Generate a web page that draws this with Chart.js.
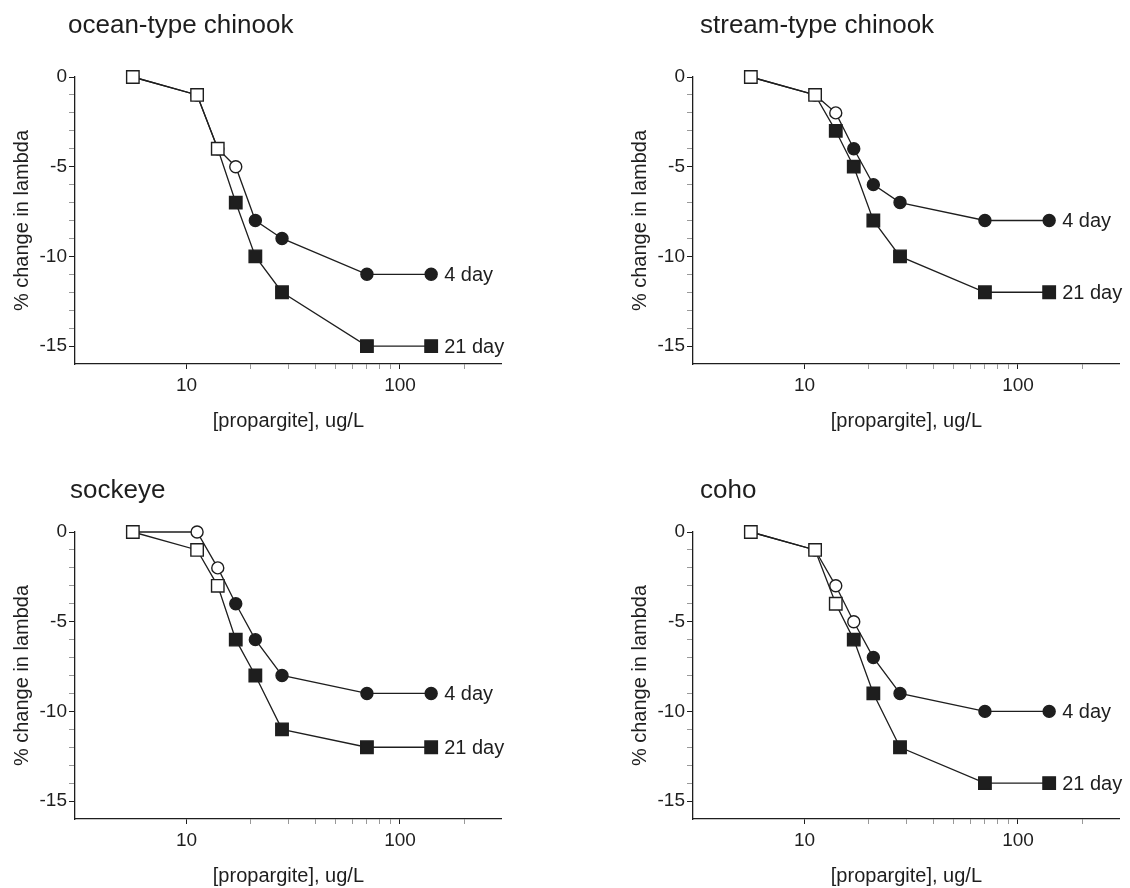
<!DOCTYPE html>
<html>
<head>
<meta charset="utf-8">
<script src="https://cdn.jsdelivr.net/npm/chart.js@4.4.1/dist/chart.umd.min.js"></script>
<style>
  body { margin: 0; background: #fff; width: 1130px; height: 888px; overflow: hidden; position: relative; }
  canvas { position: absolute; }
</style>
</head>
<body>
<canvas id="ocean" width="512" height="444" style="left:0;top:0"></canvas>
<canvas id="stream" width="512" height="444" style="left:618px;top:0"></canvas>
<canvas id="sockeye" width="512" height="444" style="left:0;top:455px"></canvas>
<canvas id="coho" width="512" height="444" style="left:618px;top:455px"></canvas>
<script>
// propargite concentrations, ug/L
const conc = [5.6, 11.2, 14, 17, 21, 28, 70, 140];
const xTicks = [10, 20, 30, 40, 50, 60, 70, 80, 90, 100, 200];
const yTicks = [0, -1, -2, -3, -4, -5, -6, -7, -8, -9, -10, -11, -12, -13, -14, -15];

// % change in lambda, 4 day and 21 day exposures
const oceanDay4    = [0, -1, -4, -5, -8, -9, -11, -11];
const oceanDay21   = [0, -1, -4, -7, -10, -12, -15, -15];
const streamDay4   = [0, -1, -2, -4, -6, -7, -8, -8];
const streamDay21  = [0, -1, -3, -5, -8, -10, -12, -12];
const sockeyeDay4  = [0, 0, -2, -4, -6, -8, -9, -9];
const sockeyeDay21 = [0, -1, -3, -6, -8, -11, -12, -12];
const cohoDay4     = [0, -1, -3, -5, -7, -9, -10, -10];
const cohoDay21    = [0, -1, -4, -6, -9, -12, -14, -14];

// significant (filled symbol) or not (open symbol)
const oceanSig4    = [0, 0, 0, 0, 1, 1, 1, 1];
const oceanSig21   = [0, 0, 0, 1, 1, 1, 1, 1];
const streamSig4   = [0, 0, 0, 1, 1, 1, 1, 1];
const streamSig21  = [0, 0, 1, 1, 1, 1, 1, 1];
const sockeyeSig4  = [0, 0, 0, 1, 1, 1, 1, 1];
const sockeyeSig21 = [0, 0, 0, 1, 1, 1, 1, 1];
const cohoSig4     = [0, 0, 0, 0, 1, 1, 1, 1];
const cohoSig21    = [0, 0, 0, 1, 1, 1, 1, 1];

const FONT = '"Liberation Sans", Arial, Helvetica, sans-serif';
const INK = '#1e1e1e';

// "4 day" / "21 day" next to the last point of each series
const endLabels = {
  id: 'endLabels',
  afterDatasetsDraw(chart) {
    const ctx = chart.ctx;
    ctx.save();
    ctx.font = '20px ' + FONT;
    ctx.fillStyle = INK;
    ctx.textBaseline = 'middle';
    chart.data.datasets.forEach((ds, i) => {
      const pts = chart.getDatasetMeta(i).data;
      const p = pts[pts.length - 1];
      ctx.fillText(ds.label, p.x + 13, p.y + 1);
    });
    ctx.restore();
  }
};

// nudge the panel title a little off the y axis
const titleShift = {
  id: 'titleShift',
  afterLayout(chart, args, opts) {
    const t = chart.titleBlock;
    if (t) { t.left += opts.dx; t.right += opts.dx; }
  }
};

function series(label, ys, sig, style, radius) {
  return {
    label: label,
    data: conc.map((x, i) => ({ x: x, y: ys[i] })),
    showLine: true,
    borderColor: INK,
    borderWidth: 1.3,
    pointStyle: style,
    pointRadius: radius,
    pointHoverRadius: radius,
    pointBorderWidth: 1.4,
    pointBorderColor: INK,
    pointBackgroundColor: sig.map(s => s ? INK : '#fff'),
    clip: false
  };
}

function makePanel(id, title, day4, day21, sig4, sig21, titlePad, dx) {
  new Chart(document.getElementById(id), {
    type: 'scatter',
    data: {
      datasets: [
        series('21 day', day21, sig21, 'rect', 8.8),
        series('4 day', day4, sig4, 'circle', 6)
      ]
    },
    plugins: [endLabels, titleShift],
    options: {
      responsive: false,
      animation: false,
      events: [],
      layout: { padding: 0 },
      plugins: {
        legend: { display: false },
        tooltip: { enabled: false },
        titleShift: { dx: dx },
        title: {
          display: true,
          text: title,
          align: 'start',
          fullSize: false,
          color: INK,
          font: { family: FONT, size: 26, weight: 'normal' },
          padding: titlePad
        }
      },
      scales: {
        x: {
          type: 'logarithmic',
          min: 3,
          max: 300,
          afterBuildTicks: s => { s.ticks = xTicks.map(v => ({ value: v })); },
          afterFit: s => { s.height = 80; },
          border: { color: INK, width: 1.3 },
          grid: {
            drawOnChartArea: false,
            tickLength: 5,
            tickColor: c => (c.tick && (c.tick.value === 10 || c.tick.value === 100)) ? INK : '#999'
          },
          ticks: {
            autoSkip: false,
            maxRotation: 0,
            padding: 5,
            color: INK,
            font: { family: FONT, size: 19 },
            callback: v => (v === 10 || v === 100) ? String(v) : ''
          },
          title: {
            display: true,
            text: '[propargite], ug/L',
            color: INK,
            font: { family: FONT, size: 20 },
            padding: { top: 0, bottom: 11 }
          }
        },
        y: {
          type: 'linear',
          min: -16,
          max: 0,
          afterBuildTicks: s => { s.ticks = yTicks.map(v => ({ value: v })); },
          afterFit: s => { s.width = 75; },
          border: { color: INK, width: 1.3 },
          grid: {
            drawOnChartArea: false,
            tickLength: 6,
            tickColor: c => (c.tick && c.tick.value % 5 === 0) ? INK : '#999'
          },
          ticks: {
            autoSkip: false,
            padding: 2,
            color: INK,
            font: { family: FONT, size: 19 },
            callback: v => (v % 5 === 0) ? String(v) : ''
          },
          title: {
            display: true,
            text: '% change in lambda',
            color: INK,
            font: { family: FONT, size: 20 },
            padding: { top: 10, bottom: 0 }
          }
        }
      }
    }
  });
}

makePanel('ocean', 'ocean-type chinook', oceanDay4, oceanDay21, oceanSig4, oceanSig21, { top: 10.4, bottom: 35.4 }, -7);
makePanel('stream', 'stream-type chinook', streamDay4, streamDay21, streamSig4, streamSig21, { top: 10.4, bottom: 35.4 }, 7);
makePanel('sockeye', 'sockeye', sockeyeDay4, sockeyeDay21, sockeyeSig4, sockeyeSig21, { top: 20.4, bottom: 25.4 }, -5);
makePanel('coho', 'coho', cohoDay4, cohoDay21, cohoSig4, cohoSig21, { top: 20.4, bottom: 25.4 }, 7);
</script>
</body>
</html>
